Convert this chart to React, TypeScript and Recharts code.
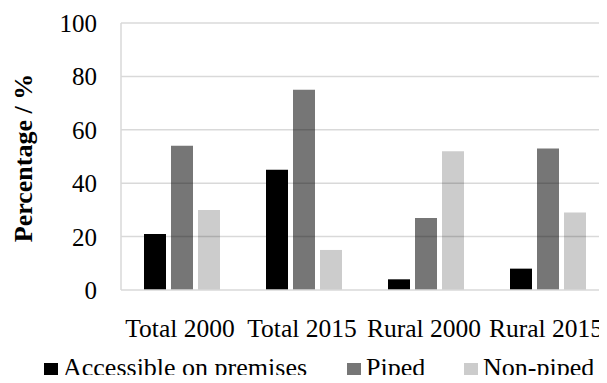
import {
	BarChart,
	Bar,
	XAxis,
	YAxis,
	Legend,
	ReferenceLine,
} from 'recharts';

const categories = ['Total 2000', 'Total 2015', 'Rural 2000', 'Rural 2015'];
const accessibleOnPremises = [21, 45, 4, 8];
const piped = [54, 75, 27, 53];
const nonPiped = [30, 15, 52, 29];
const yTicks = [0, 20, 40, 60, 80, 100];

const seriesNames = ['Accessible on premises', 'Piped', 'Non-piped'];
const seriesColors = ['#000000', '#767676', '#cccccc'];

const FONT = '"Liberation Serif", "Times New Roman", serif';

const data = categories.map((name, i) => ({
	name,
	accessible: accessibleOnPremises[i],
	piped: piped[i],
	nonPiped: nonPiped[i],
}));

const XTick = ({ x, y, payload }: any) => (
	<text x={x} y={y} dx={-2} dy={47} textAnchor="middle" fontFamily={FONT} fontSize={25.5} fill="#000">
		{payload.value}
	</text>
);

const YTick = ({ y, payload }: any) => (
	<text x={97} y={y} dy={9} textAnchor="end" fontFamily={FONT} fontSize={25} fill="#000">
		{payload.value}
	</text>
);

// legend items sit at fixed offsets along the bottom row
const legendLeft = [44, 347, 464];

const LegendContent = () => (
	<div style={{ position: 'relative', width: 607, height: 40, fontFamily: FONT, fontSize: 26, lineHeight: '26px', color: '#000' }}>
		{seriesNames.map((name, i) => (
			<div key={name} style={{ position: 'absolute', left: legendLeft[i], top: 0, height: 40, whiteSpace: 'nowrap' }}>
				<span style={{ position: 'absolute', left: 0, top: 20, width: 14, height: 14, background: seriesColors[i] }} />
				<span style={{ position: 'absolute', left: 19, top: 12 }}>{name}</span>
			</div>
		))}
	</div>
);

export default function App() {
	return (
		<div style={{ margin: -8, width: 607, height: 383, overflow: 'hidden', background: '#fff', position: 'relative' }}>
			<BarChart
				width={609}
				height={383}
				data={data}
				margin={{ top: 23, right: 0, bottom: 0, left: 0 }}
				barSize={22}
				barGap={5}
			>
				<XAxis
					dataKey="name"
					height={53}
					tickLine={false}
					tickSize={0}
					tickMargin={0}
					axisLine={{ stroke: '#d9d9d9', strokeWidth: 1.5 }}
					tick={<XTick />}
					interval={0}
				/>
				<YAxis
					width={121}
					domain={[0, 100]}
					ticks={yTicks}
					tickLine={false}
					axisLine={{ stroke: '#d9d9d9', strokeWidth: 1.5 }}
					tick={<YTick />}
					label={{
						content: () => (
							<text
								x={32}
								y={158}
								transform="rotate(-90, 32, 158)"
								textAnchor="middle"
								fontFamily={FONT}
								fontSize={26}
								fontWeight="bold"
								fill="#000"
							>
								Percentage / %
							</text>
						),
					}}
				/>
				<Bar dataKey="accessible" name={seriesNames[0]} fill={seriesColors[0]} isAnimationActive={false} />
				<Bar dataKey="piped" name={seriesNames[1]} fill={seriesColors[1]} isAnimationActive={false} />
				<Bar dataKey="nonPiped" name={seriesNames[2]} fill={seriesColors[2]} isAnimationActive={false} />
				{yTicks.slice(1).map((t) => (
					<ReferenceLine key={t} y={t} stroke="#000" strokeOpacity={0.15} strokeWidth={1.5} />
				))}
				<Legend verticalAlign="bottom" height={40} content={() => <LegendContent />} />
			</BarChart>
		</div>
	);
}
